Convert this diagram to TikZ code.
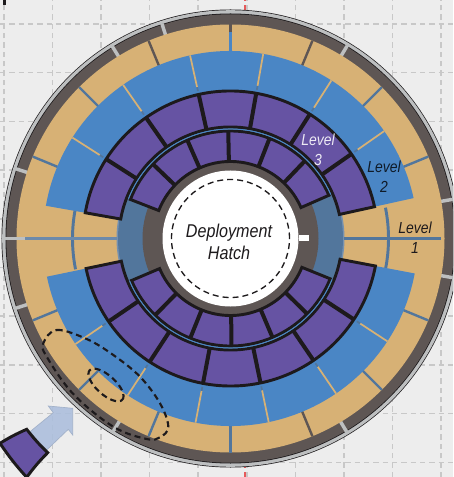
\documentclass[tikz,border=0pt]{standalone}
\usepackage{fontspec}
\setmainfont{Liberation Sans}[FakeStretch=0.87]
\usetikzlibrary{positioning}
\definecolor{bgpaper}{HTML}{EDEDED}
\definecolor{gridgray}{HTML}{C8C8C8}
\definecolor{rimdark}{HTML}{5E5654}
\definecolor{rimgray}{HTML}{BDBFC0}
\definecolor{linedark}{HTML}{1D1A1C}
\definecolor{tanring}{HTML}{D7B175}
\definecolor{bluering}{HTML}{4A86C5}
\definecolor{purplering}{HTML}{6653A3}
\definecolor{steelband}{HTML}{52769C}
\definecolor{arrowblue}{HTML}{ABBEDC}
\tikzset{
  % dashed sheet grid behind the disc
  gridline/.style = {draw=gridgray, line width=1.2pt, dash pattern=on 4pt off 3pt},
  % a purple bay, outlined
  pbay/.style     = {draw=linedark, fill=purplering, line width=2.2pt, line join=miter},
  % a thick line between two purple bays
  pdiv/.style     = {draw=linedark, line width=3pt},
  % thin tan line between two blue bays
  bdiv/.style     = {draw=tanring, line width=1.3pt},
  % line between two tan bays
  tdiv/.style     = {line width=1.8pt},
  % light gap in the dark rim
  rimtick/.style  = {draw=rimgray, line width=2.6pt},
  % dashed loops round the bays
  hloop/.style    = {draw=linedark, line width=1.6pt, dash pattern=on 4.5pt off 3pt},
  % label font for the picture
  llabel/.style   = {font=\fontsize{12}{15}\selectfont\itshape, align=center, inner sep=0pt},
}
% ring sector: start angle, end angle, inner radius, outer radius
\newcommand{\ringsector}[4]{(#1:#3) arc[start angle=#1,end angle=#2,radius=#3] -- (#2:#4) arc[start angle=#2,end angle=#1,radius=#4] -- cycle}

\begin{document}
\begin{tikzpicture}[x=0.75pt,y=0.75pt]
  \useasboundingbox (-230.5,-238.5) rectangle (222.5,238.5);
  \clip (-230.5,-238.5) rectangle (222.5,238.5);
  \fill[bgpaper] (-230.5,-238.5) rectangle (222.5,238.5);

  % grid
  \foreach \k in {0,...,9} {
    \draw[gridline] (-226.5+48.55*\k,-238.5) -- (-226.5+48.55*\k,238.5);
    \draw[gridline] (-230.5,214.5-48.7*\k) -- (222.5,214.5-48.7*\k);
  }
  \draw[gridline,draw=red!55!gridgray] (14.5,-238.5) -- (14.5,238.5);
  \fill[linedark] (-227,233) rectangle (-224.5,238.5);

  % rim and rings, outside in
  \fill[linedark] (0,0) circle[radius=229];
  \fill[rimgray] (0,0) circle[radius=228.3];
  \fill[linedark] (0,0) circle[radius=225];
  \fill[rimdark] (0,0) circle[radius=224.2];
  \foreach \a in {10,58.8,107.7,121.6,162,180,198,238.7,301,350}
    \draw[rimtick] (\a:213.5) -- (\a:225.5);
  \fill[tanring] (0,0) circle[radius=214];
  \fill[steelband!80!white] (0,0) circle[radius=114];
  \fill[steelband] (0,0) circle[radius=112.5];
  \fill[rimdark] (0,0) circle[radius=88];
  \fill[white] (0,0) circle[radius=68];
  \draw[linedark,line width=1pt,dash pattern=on 4.5pt off 3pt] (0,0) circle[radius=59];
  \fill[white] (68.5,-2.5) rectangle (78,3.5);

  % seams in the two tan gaps
  \draw[steelband,line width=2.2pt] (168.75:158) arc[start angle=168.75,end angle=191.25,radius=158];
  \draw[steelband,line width=2.2pt] (11.25:158) arc[start angle=11.25,end angle=-11.25,radius=158];
  \draw[steelband!85!white,line width=1.8pt] (180:113) -- (180:205);
  \draw[rimgray,line width=2pt] (180:205) -- (180:214);
  \draw[steelband,line width=1.8pt] (0:113) -- (0:210);

  % lines between the tan bays
  \foreach \a/\c in {22.5/steelband,45/steelband,67.5/rimdark,112.5/rimdark,135/steelband,157.5/steelband,
      202.5/steelband,225/steelband,247.5/steelband,270/steelband,292.5/rimdark,315/steelband,337.5/steelband}
    \draw[tdiv,draw=\c] (\a:186) -- (\a:214);
  \draw[tdiv,draw=bluering] (90:186) -- (90:206);
  \draw[tdiv,draw=rimdark] (90:206) -- (90:214);

  % blue bays
  \foreach \s in {1.2,180.5} {
    \fill[bluering] \ringsector{\s+11.25}{\s+168.75}{145}{187.5};
    \foreach \k in {1,...,6} {
      \draw[bdiv] (\s+11.25+22.5*\k:155) -- (\s+11.25+22.5*\k:187.5);
      \draw[bdiv,draw=steelband] (\s+11.25+22.5*\k:151) -- (\s+11.25+22.5*\k:155);
    }
  }

  % purple bays
  \foreach \s in {1.2,180.5} {
    \draw[pbay] \ringsector{\s+11.25}{\s+168.75}{111.5}{147.5};
    \foreach \k in {1,...,6}
      \draw[pdiv] (\s+11.25+22.5*\k:111.5) -- (\s+11.25+22.5*\k:147.5);
    \draw[pbay] \ringsector{\s+22.5}{\s+157.5}{77}{107.5};
    \foreach \k in {1,...,5}
      \draw[pdiv] (\s+22.5+22.5*\k:77) -- (\s+22.5+22.5*\k:107.5);
    \draw[bluering,line width=0.7pt] (\s+22.5:109.5) arc[start angle=\s+22.5,end angle=\s+157.5,radius=109.5];
  }

  % loose bay and its arrow
  \draw[draw=arrowblue!80!gray,fill=arrowblue,fill opacity=0.88,line width=0.5pt] (-157.8,-169.8) -- (-182.2,-167.5) -- (-177.2,-174.2)
    -- (-200.5,-193.2) -- (-183.8,-211.5) -- (-162.2,-190.8) -- (-157.8,-196.5) -- cycle;
  \draw[pbay] (-230.5,-204.8) to[bend left=4] (-203.8,-190.8) to[bend right=4] (-182.8,-214.2)
    to[bend right=4] (-203.8,-238.8) to[bend left=4] cycle;

  % dashed loops
  \draw[hloop] plot[smooth cycle,tension=0.6] coordinates {(-187.2,-104.8) (-173.8,-91.5) (-143.8,-100.5) (-117.2,-116.5)
    (-90.5,-138.2) (-70.5,-164.8) (-62.2,-188.2) (-70.5,-198.8) (-83.8,-200.5) (-117.2,-188.2) (-157.2,-155.5) (-183.8,-118.2)};
  \draw[hloop,rotate around={-42:(-124.5,-146.5)}] (-124.5,-146.5) ellipse[x radius=22,y radius=9.5];

  % labels
  \node[llabel,font=\fontsize{13.9}{16.5}\selectfont\itshape,text=linedark] (hatch) at (-1.5,-3.5) {Deployment\\Hatch};
  \node[llabel,text=white!88!purplering] (lvlthree) at (87.5,89) {Level\\3};
  \node[llabel,text=black!80!bluering] (lvltwo) at (153.5,61.5) {Level\\2};
  \node[llabel,text=linedark] (lvlone) at (184.5,0.5) {Level\\1};
\end{tikzpicture}
\end{document}
